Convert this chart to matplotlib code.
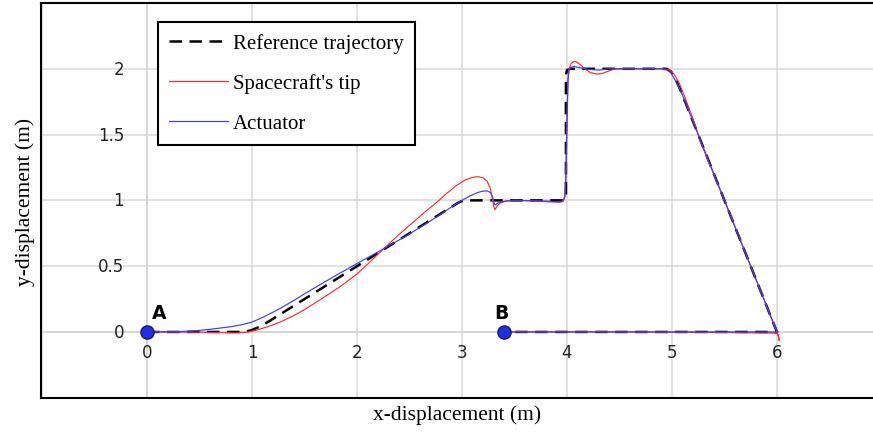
import matplotlib
matplotlib.use("Agg")
import matplotlib.pyplot as plt
from matplotlib.transforms import offset_copy

# Reference path: A -> ramp -> step up -> plateau -> descent -> back along the x-axis to B
ref_x = [0.0, 0.5, 0.9, 0.95, 1.0, 1.1, 1.2, 1.5, 2.0, 2.5, 2.8, 2.9, 2.96, 3.0, 3.05,
         3.5, 3.97, 3.99, 3.99, 4.0, 4.03, 4.06, 4.5, 4.95, 4.99, 5.03, 5.08, 5.5, 5.75, 6.0,
         5.5, 4.5, 3.4]
ref_y = [0.0, 0.0, 0.0, 0.004, 0.015, 0.05, 0.1, 0.25, 0.5, 0.75, 0.9, 0.95, 0.98, 0.995, 1.0,
         1.0, 1.0, 1.05, 1.95, 1.99, 2.0, 2.0, 2.0, 2.0, 1.98, 1.93, 1.84, 1.0, 0.5, 0.0,
         0.0, 0.0, 0.0]

# Spacecraft tip response
tip_x = [0.0, 0.5, 0.7, 0.85, 0.95, 1.05, 1.15, 1.27, 1.4, 1.5, 1.65, 1.84, 2.0, 2.12,
         2.25, 2.4, 2.5, 2.63, 2.76, 2.85, 2.95, 3.03, 3.1, 3.15, 3.2, 3.24, 3.27, 3.29,
         3.305, 3.315, 3.33, 3.36, 3.42, 3.5, 3.7, 3.85, 3.93, 3.96, 3.98, 3.99, 4.0, 4.01,
         4.02, 4.04, 4.06, 4.08, 4.1, 4.13, 4.17, 4.22, 4.28, 4.33, 4.38, 4.44, 4.5, 4.9,
         4.97, 5.02, 5.07, 5.12, 5.2, 5.28, 5.33, 5.5, 5.75, 5.95, 5.99, 6.01, 6.02, 6.015,
         6.0, 5.9, 5.5, 4.5, 3.4]
tip_y = [0.0, -0.002, -0.005, -0.007, -0.002, 0.015, 0.04, 0.075, 0.125, 0.17, 0.245,
         0.345, 0.44, 0.53, 0.63, 0.74, 0.81, 0.9, 0.985, 1.05, 1.115, 1.155, 1.175, 1.18,
         1.172, 1.145, 1.09, 1.01, 0.945, 0.93, 0.952, 0.978, 0.995, 1.0, 0.995, 0.988,
         0.985, 0.99, 1.02, 1.2, 1.6, 1.92, 2.0, 2.04, 2.053, 2.055, 2.048, 2.03, 2.0, 1.972,
         1.96, 1.963, 1.978, 1.995, 2.0, 2.0, 1.995, 1.96, 1.89, 1.79, 1.62, 1.43, 1.33, 1.0,
         0.5, 0.1, 0.02, -0.02, -0.065, -0.03, -0.01, -0.008, -0.004, 0.0, 0.0]

# Actuator response
act_x = [0.0, 0.3, 0.5, 0.6, 0.7, 0.8, 0.9, 1.0, 1.1, 1.2, 1.27, 1.4, 1.5, 1.65, 1.8, 2.0,
         2.25, 2.5, 2.76, 2.9, 3.0, 3.08, 3.15, 3.2, 3.24, 3.27, 3.29, 3.3, 3.31, 3.32, 3.34,
         3.4, 3.5, 3.8, 3.92, 3.96, 3.98, 3.99, 4.0, 4.01, 4.02, 4.04, 4.07, 4.1, 4.2, 4.3,
         4.4, 4.9, 4.95, 4.99, 5.04, 5.1, 5.2, 5.5, 5.75, 5.95, 6.0, 6.01, 5.9, 3.4]
act_y = [0.0, 0.002, 0.012, 0.02, 0.03, 0.04, 0.055, 0.075, 0.11, 0.15, 0.18, 0.24, 0.29,
         0.36, 0.43, 0.52, 0.63, 0.745, 0.875, 0.95, 1.0, 1.035, 1.06, 1.07, 1.072, 1.06,
         1.03, 1.0, 0.97, 0.965, 0.98, 0.993, 1.0, 0.995, 0.99, 0.995, 1.03, 1.2, 1.6, 1.92,
         1.99, 2.012, 2.018, 2.012, 1.997, 1.99, 2.0, 2.0, 1.99, 1.97, 1.9, 1.8, 1.6, 1.0,
         0.5, 0.1, 0.01, 0.0, 0.0, 0.0]

# Named waypoints
pt_names = ["A", "B"]
pt_x = [0.0, 3.4]
pt_y = [0.0, 0.0]

x_ticks = [0, 1, 2, 3, 4, 5, 6]
y_ticks = [0, 0.5, 1, 1.5, 2]
y_tick_labels = ["0", "0.5", "1", "1.5", "2"]

serif = ["Liberation Serif", "DejaVu Serif"]

fig = plt.figure(figsize=(8.73, 4.35), dpi=100)
ax = fig.add_axes([41 / 873, 36 / 435, 832 / 873, 395 / 435])
ax.set_xlim(-1.01, 6.915)
ax.set_ylim(-0.502, 2.5)

# Grid
ax.set_xticks(range(-1, 7))
ax.set_yticks([-0.5, 0, 0.5, 1, 1.5, 2, 2.5])
ax.grid(True, color="#d9d9d9", linewidth=1.1, zorder=0)
ax.tick_params(length=0, labelbottom=False, labelleft=False)
ax.axhline(0, color="#c4c4c4", linewidth=1.1, zorder=0.5)
ax.axvline(0, color="#c4c4c4", linewidth=1.1, zorder=0.5)

for side in ("left", "top", "bottom"):
    ax.spines[side].set_linewidth(1.5)
    ax.spines[side].set_color("black")
ax.spines["right"].set_visible(False)

# Tick labels drawn next to the axis lines
xlab_tr = offset_copy(ax.transData, fig=fig, x=0, y=-20, units="dots")
for xv in x_ticks:
    ax.text(xv, 0, str(xv), transform=xlab_tr, ha="center", va="center",
            fontsize=12, family="DejaVu Sans", color="#222222")
ylab_tr = offset_copy(ax.transData, fig=fig, x=-23, y=0, units="dots")
for yv, lab in zip(y_ticks, y_tick_labels):
    ax.text(0, yv, lab, transform=ylab_tr, ha="right", va="center",
            fontsize=12, family="DejaVu Sans", color="#222222")

ax.plot(ref_x, ref_y, color="black", linewidth=1.8, dashes=(5, 3),
        label="Reference trajectory", zorder=2)
ax.plot(tip_x, tip_y, color="#ff2a2a", linewidth=0.85, label="Spacecraft's tip", zorder=3)
ax.plot(act_x, act_y, color="#3a3aff", linewidth=0.85, label="Actuator", zorder=4)

ax.plot(pt_x, pt_y, linestyle="none", marker="o", markersize=9.5,
        markerfacecolor="#1f2fe8", markeredgecolor="#1a1a55", markeredgewidth=1.0, zorder=5)
a_tr = offset_copy(ax.transData, fig=fig, x=5, y=10, units="dots")
b_tr = offset_copy(ax.transData, fig=fig, x=-3, y=10, units="dots")
ax.text(pt_x[0], pt_y[0], pt_names[0], transform=a_tr, ha="left", va="bottom",
        fontsize=13.5, fontweight="bold", family="DejaVu Sans")
ax.text(pt_x[1], pt_y[1], pt_names[1], transform=b_tr, ha="center", va="bottom",
        fontsize=13.5, fontweight="bold", family="DejaVu Sans")

ax.set_xlabel("x-displacement (m)", family=serif, fontsize=15.5, labelpad=4.5)
ax.set_ylabel("y-displacement (m)", family=serif, fontsize=15.5, labelpad=4)

leg = ax.legend(loc="upper left", bbox_to_anchor=((158 - 41) / 832, (399 - 23) / 395),
                borderaxespad=0, fancybox=False, framealpha=1, edgecolor="black",
                prop={"family": serif, "size": 15}, handlelength=2.8,
                handletextpad=0.25, labelspacing=0.97, borderpad=0.55)
leg.get_frame().set_linewidth(1.5)

fig.savefig("out.png", dpi=100)
